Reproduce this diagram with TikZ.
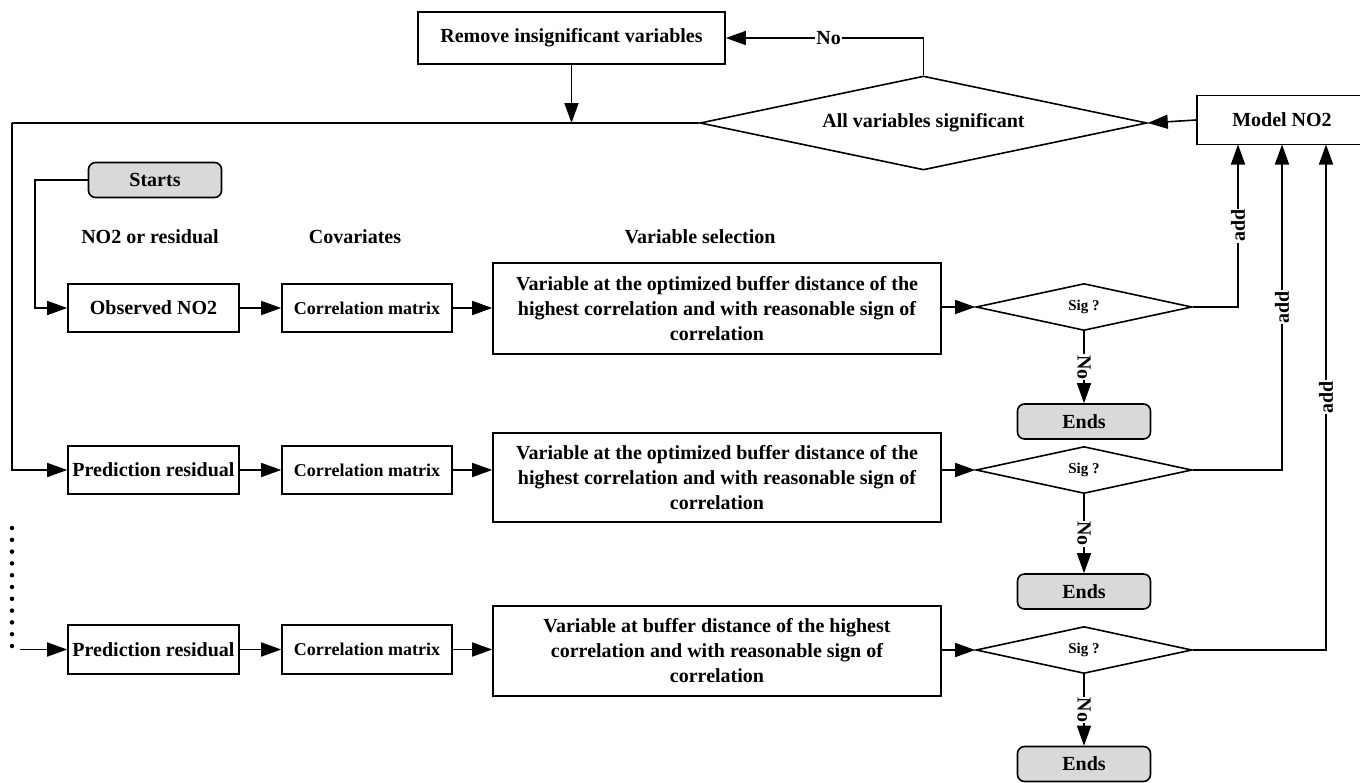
\documentclass[tikz,border=0pt]{standalone}
\usepackage{fontspec}
\setmainfont{Liberation Serif}
\usetikzlibrary{arrows.meta,shapes.geometric}
\definecolor{termgray}{RGB}{217,217,217}
\begin{document}
\begin{tikzpicture}[x=1pt,y=-1pt,
  every node/.style={font=\bfseries\fontsize{20}{25}\selectfont},
  box/.style={draw,line width=1.6pt,inner sep=0pt,align=center},
  term/.style={box,rounded corners=7pt,fill=termgray,minimum width=133pt,minimum height=35pt},
  dia/.style={draw,line width=1.6pt,diamond,inner sep=0pt,shape aspect=4.7},
  small/.style={font=\bfseries\fontsize{18}{22}\selectfont},
  tiny/.style={font=\bfseries\fontsize{15}{18}\selectfont},
  ln/.style={line width=1.6pt},
  arr/.style={ln,-{Triangle[length=20pt,width=14pt]}},
  lbl/.style={fill=white,inner sep=1pt}
]
\useasboundingbox (0,0) rectangle (1360,782);
\clip (0,0) rectangle (1360,782);

% top part
\node[box,minimum width=307pt,minimum height=52pt] (remove) at (571.5,38) {Remove insignificant variables};
\node[dia,minimum width=447pt,minimum height=94pt] (all) at (923.5,123) {All variables significant};
\node[box,minimum width=170pt,minimum height=49pt] (model) at (1282,120) {Model NO2};

\node[term] (starts) at (155,180) {Starts};

% headings
\node (h1) at (150,237) {NO2 or residual};
\node (h2) at (355,237) {Covariates};
\node (h3) at (700,237) {Variable selection};

% row 1
\node[box,minimum width=171pt,minimum height=48pt] (obs) at (153.5,308) {Observed NO2};
\node[box,small,minimum width=170pt,minimum height=48pt] (corr1) at (367,308) {Correlation matrix};
\node[box,minimum width=448pt,minimum height=91pt] (var1) at (717,308.5) {Variable at the optimized buffer distance of the\\highest correlation and with reasonable sign of\\correlation};
\node[dia,tiny,minimum width=216pt,minimum height=47pt] (sig1) at (1084,307) {Sig ?};
\node[term] (ends1) at (1084,421.5) {Ends};

% row 2
\node[box,minimum width=171pt,minimum height=48pt] (pred2) at (153.5,470) {Prediction residual};
\node[box,small,minimum width=170pt,minimum height=48pt] (corr2) at (367,470) {Correlation matrix};
\node[box,minimum width=448pt,minimum height=89pt] (var2) at (717,477.5) {Variable at the optimized buffer distance of the\\highest correlation and with reasonable sign of\\correlation};
\node[dia,tiny,minimum width=216pt,minimum height=47pt] (sig2) at (1084,470) {Sig ?};
\node[term] (ends2) at (1084,591.5) {Ends};

% row 3
\node[box,minimum width=171pt,minimum height=49pt] (pred3) at (153.5,649.5) {Prediction residual};
\node[box,small,minimum width=170pt,minimum height=49pt] (corr3) at (367,649.5) {Correlation matrix};
\node[box,minimum width=448pt,minimum height=90pt] (var3) at (717,651) {Variable at buffer distance of the highest\\correlation and with reasonable sign of\\correlation};
\node[dia,tiny,minimum width=216pt,minimum height=47pt] (sig3) at (1084,650) {Sig ?};
\node[term] (ends3) at (1084,764) {Ends};

% coordinates
\coordinate (l1) at (12,123);
\coordinate (s1) at (35,308);
\coordinate (d1) at (20,651);
\coordinate (a1) at (1238,144.5);
\coordinate (a2) at (1282,144.5);
\coordinate (a3) at (1326,144.5);

% top connectors
\draw[arr] (all.north) |- node[lbl,pos=0.74]{No} (remove.east);
\draw[arr] (remove.south) -- (remove.south |- all.west);
\draw[arr] (model.west) -- (all.east);
\draw[ln] (all.west) -- (l1);
\draw[arr] (l1) |- (pred2.west);
\draw[arr] (starts.west) -| (s1) -- (obs.west);

% dots
\draw[line width=4.5pt,line cap=round,dash pattern=on 0pt off 11.8pt] (12,528) -- (12,647);
\draw[arr] (pred3.west -| d1) -- (pred3.west);

% rows
\draw[arr] (obs) -- (corr1);
\draw[arr] (corr1.east) -- (corr1.east -| var1.west);
\draw[arr] (var1.east |- sig1.west) -- (sig1.west);
\draw[arr] (sig1.south) -- node[lbl,rotate=-90]{No} (ends1.north);
\draw[arr] (sig1.east) -| node[lbl,rotate=90,pos=0.75]{add} (a1);

\draw[arr] (pred2) -- (corr2);
\draw[arr] (corr2.east) -- (corr2.east -| var2.west);
\draw[arr] (var2.east |- sig2.west) -- (sig2.west);
\draw[arr] (sig2.south) -- node[lbl,rotate=-90]{No} (ends2.north);
\draw[arr] (sig2.east) -| node[lbl,rotate=90,pos=0.75]{add} (a2);

\draw[arr] (pred3) -- (corr3);
\draw[arr] (corr3.east) -- (corr3.east -| var3.west);
\draw[arr] (var3.east |- sig3.west) -- (sig3.west);
\draw[arr] (sig3.south) -- node[lbl,rotate=-90]{No} (ends3.north);
\draw[arr] (sig3.east) -| node[lbl,rotate=90,pos=0.75]{add} (a3);
\end{tikzpicture}
\end{document}
